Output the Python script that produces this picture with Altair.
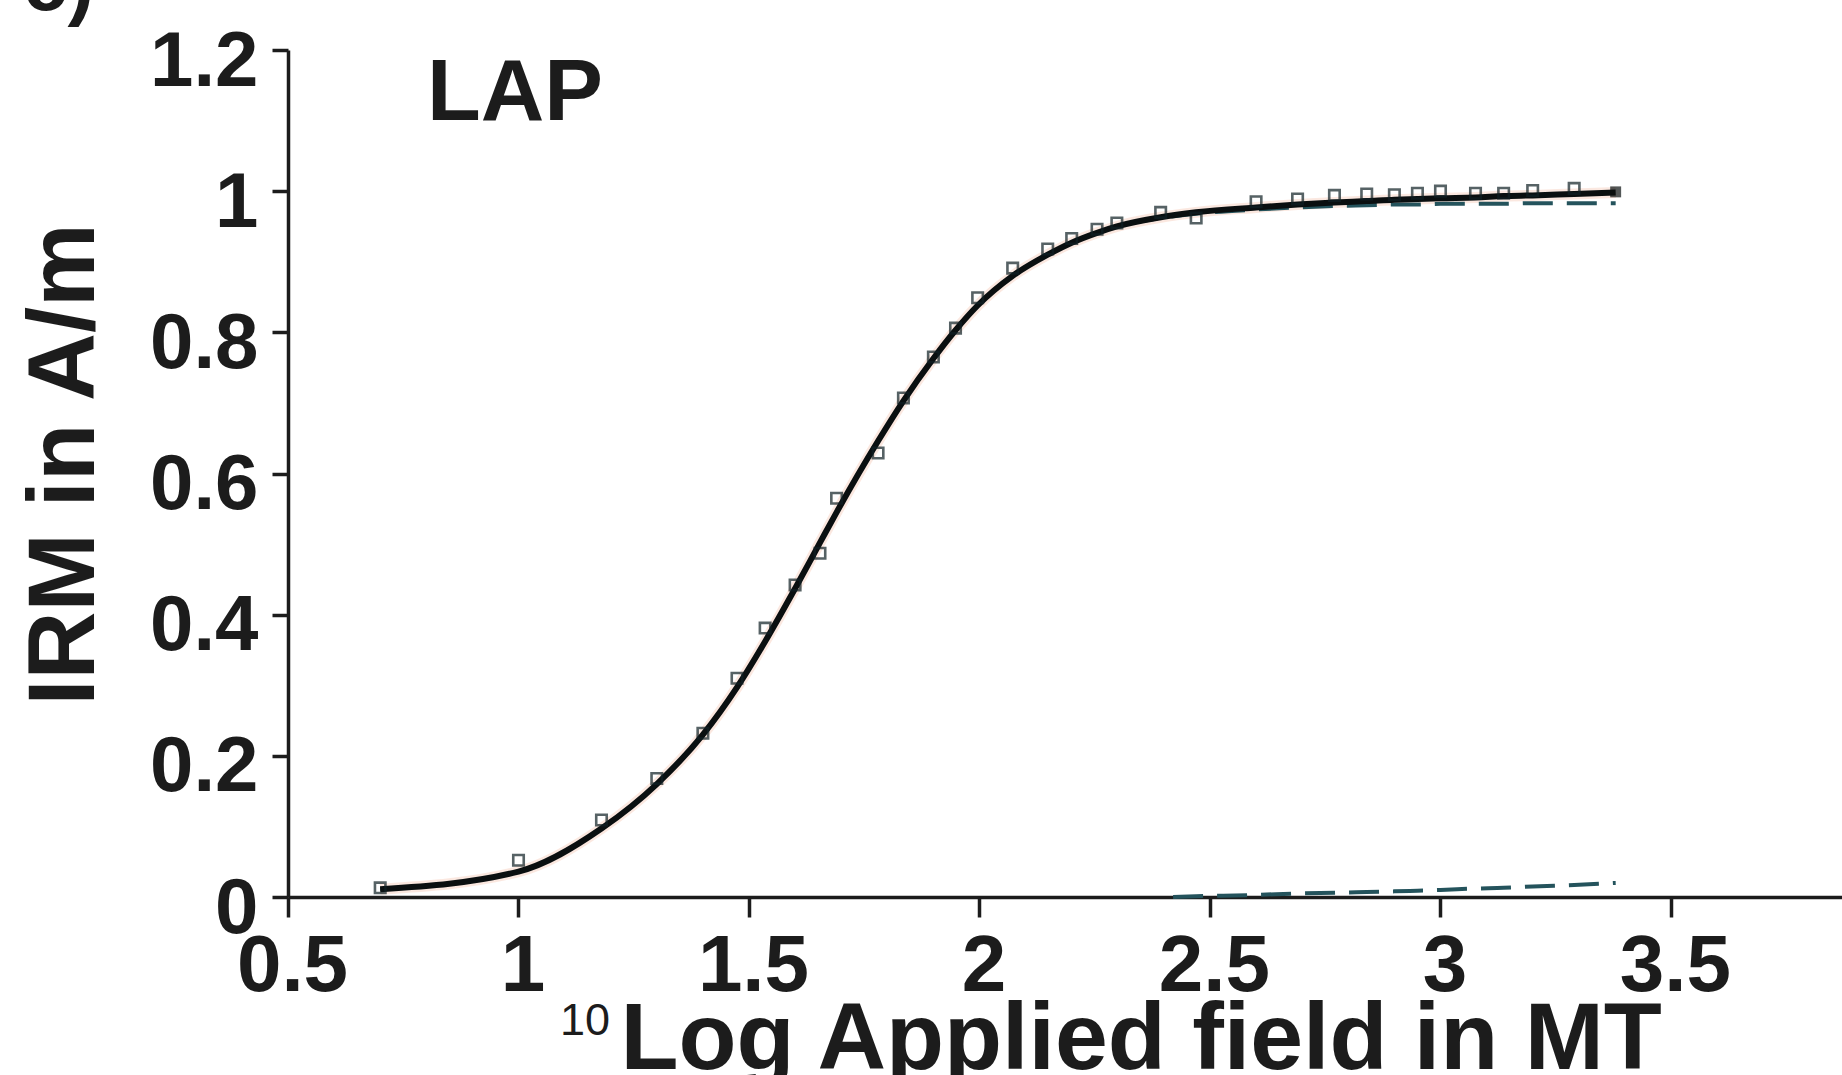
import altair as alt
import pandas as pd

# log10 of applied field (mT) at each IRM acquisition step
field_log = [0.70, 1.00, 1.18, 1.30, 1.40, 1.474, 1.535, 1.60, 1.654, 1.69,
             1.78, 1.835, 1.90, 1.948, 1.996, 2.072, 2.148, 2.20, 2.255, 2.298,
             2.393, 2.47, 2.60, 2.69, 2.77, 2.84, 2.90, 2.95, 3.00, 3.076,
             3.137, 3.20, 3.29]
# measured IRM (A/m)
irm_measured = [0.013, 0.052, 0.109, 0.168, 0.232, 0.310, 0.381, 0.442, 0.487, 0.565,
                0.629, 0.707, 0.765, 0.806, 0.849, 0.891, 0.918, 0.933, 0.946, 0.955,
                0.970, 0.962, 0.985, 0.989, 0.994, 0.996, 0.995, 0.997, 1.000, 0.997,
                0.997, 1.001, 1.004]

# last acquisition step (plotted filled)
last_field = [3.38]
last_irm = [0.999]

# total fitted curve
fit_x = field_log + last_field
fit_total = [0.011, 0.036, 0.097, 0.160, 0.230, 0.297, 0.362, 0.437, 0.502, 0.545,
             0.646, 0.703, 0.763, 0.803, 0.838, 0.880, 0.910, 0.927, 0.941, 0.950,
             0.963, 0.970, 0.977, 0.981, 0.984, 0.986, 0.988, 0.989, 0.990, 0.991,
             0.993, 0.994, 0.996, 0.998]

# component 1 (low coercivity)
comp1_y = [0.011, 0.036, 0.097, 0.160, 0.230, 0.297, 0.362, 0.437, 0.502, 0.545,
           0.646, 0.703, 0.763, 0.803, 0.838, 0.880, 0.910, 0.927, 0.941, 0.950,
           0.962, 0.968, 0.974, 0.977, 0.979, 0.980, 0.981, 0.981, 0.982, 0.982,
           0.982, 0.983, 0.983, 0.983]

# component 2 (high coercivity)
comp2_x = [2.42, 2.47, 2.60, 2.69, 2.77, 2.84, 2.90, 2.95, 3.00, 3.076,
           3.137, 3.20, 3.29, 3.38]
comp2_y = [0.000, 0.001, 0.003, 0.005, 0.006, 0.007, 0.008, 0.009, 0.010, 0.012,
           0.013, 0.015, 0.017, 0.020]

FONT = "Liberation Sans"
INK = "#1c1c1c"
TEAL = "#24535c"

x_ticks = [0.5, 1, 1.5, 2, 2.5, 3, 3.5]
y_ticks = [0, 0.2, 0.4, 0.6, 0.8, 1.0, 1.2]

x_axis = alt.Axis(
    values=x_ticks, format="~g", grid=False,
    title="Log Applied field in MT", titleFont=FONT, titleFontSize=95,
    titleFontWeight="bold", titleColor=INK, titleAlign="left",
    titleBaseline="alphabetic", titleX=332, titleY=171,
    labelFont=FONT, labelFontSize=80, labelFontWeight="bold", labelColor=INK,
    labelPadding=10, labelOffset=4, labelFlush=False, labelOverlap=False,
    tickSize=20, tickWidth=3.5, tickColor=INK,
    domainWidth=3.5, domainColor=INK,
)
y_axis = alt.Axis(
    values=y_ticks, format="~g", grid=False,
    title="IRM in A/m", titleFont=FONT, titleFontSize=94,
    titleFontWeight="bold", titleColor=INK, titleAngle=270,
    titleAlign="center", titleBaseline="alphabetic", titleX=-195, titleY=414,
    labelFont=FONT, labelFontSize=78, labelFontWeight="bold", labelColor=INK,
    labelPadding=14, labelOffset=12, labelFlush=False, labelOverlap=False,
    tickSize=16, tickWidth=3.5, tickColor=INK,
    domainWidth=3.5, domainColor=INK,
)

x_scale = alt.Scale(domain=[0.5, 3.871], nice=False, zero=False)
y_scale = alt.Scale(domain=[0, 1.2], nice=False, zero=False)


def enc(xf, yf):
    return dict(
        x=alt.X(f"{xf}:Q", scale=x_scale, axis=x_axis),
        y=alt.Y(f"{yf}:Q", scale=y_scale, axis=y_axis),
    )


fit_df = pd.DataFrame({"field": fit_x, "total": fit_total, "comp1": comp1_y})
comp2_df = pd.DataFrame({"field": comp2_x, "comp2": comp2_y})
meas_df = pd.DataFrame({"field": field_log, "irm": irm_measured})
last_df = pd.DataFrame({"field": last_field, "irm": last_irm})

halo = alt.Chart(fit_df).mark_line(
    color="#f2b497", strokeWidth=11, opacity=0.3, interpolate="monotone"
).encode(**enc("field", "total"))

comp1 = alt.Chart(fit_df).mark_line(
    color=TEAL, strokeWidth=4, strokeDash=[30, 14], interpolate="monotone"
).encode(**enc("field", "comp1"))

comp2 = alt.Chart(comp2_df).mark_line(
    color=TEAL, strokeWidth=4, strokeDash=[30, 14], interpolate="monotone"
).encode(**enc("field", "comp2"))

total = alt.Chart(fit_df).mark_line(
    color="#0a0f10", strokeWidth=6, interpolate="monotone"
).encode(**enc("field", "total"))

points = alt.Chart(meas_df).mark_square(
    filled=False, size=110, stroke="#102024", strokeWidth=2.6
).encode(**enc("field", "irm"))

last_point = alt.Chart(last_df).mark_square(
    filled=True, size=120, color="#0a0f10"
).encode(**enc("field", "irm"))

sample_label = alt.Chart(pd.DataFrame({"t": ["LAP"]})).mark_text(
    font=FONT, fontSize=88, fontWeight="bold", color=INK,
    align="left", baseline="alphabetic"
).encode(x=alt.value(139), y=alt.value(70), text="t:N")

log_base = alt.Chart(pd.DataFrame({"t": ["10"]})).mark_text(
    font=FONT, fontSize=45, color=INK, align="left", baseline="alphabetic"
).encode(x=alt.value(272), y=alt.value(985), text="t:N")

panel_tag = alt.Chart(pd.DataFrame({"t": ["c)"]})).mark_text(
    font=FONT, fontSize=80, fontWeight="bold", color=INK,
    align="left", baseline="alphabetic"
).encode(x=alt.value(-265), y=alt.value(-40), text="t:N")

chart = alt.layer(
    halo, comp1, comp2, total, points, last_point, sample_label, log_base, panel_tag
).properties(
    width=1554, height=847,
    padding={"left": 288, "top": 50, "right": 0, "bottom": 178},
    autosize=alt.AutoSizeParams(type="none"),
    background="white",
).configure_view(stroke=None)

chart.save("out.html", embed_options={"renderer": "svg", "actions": False})
